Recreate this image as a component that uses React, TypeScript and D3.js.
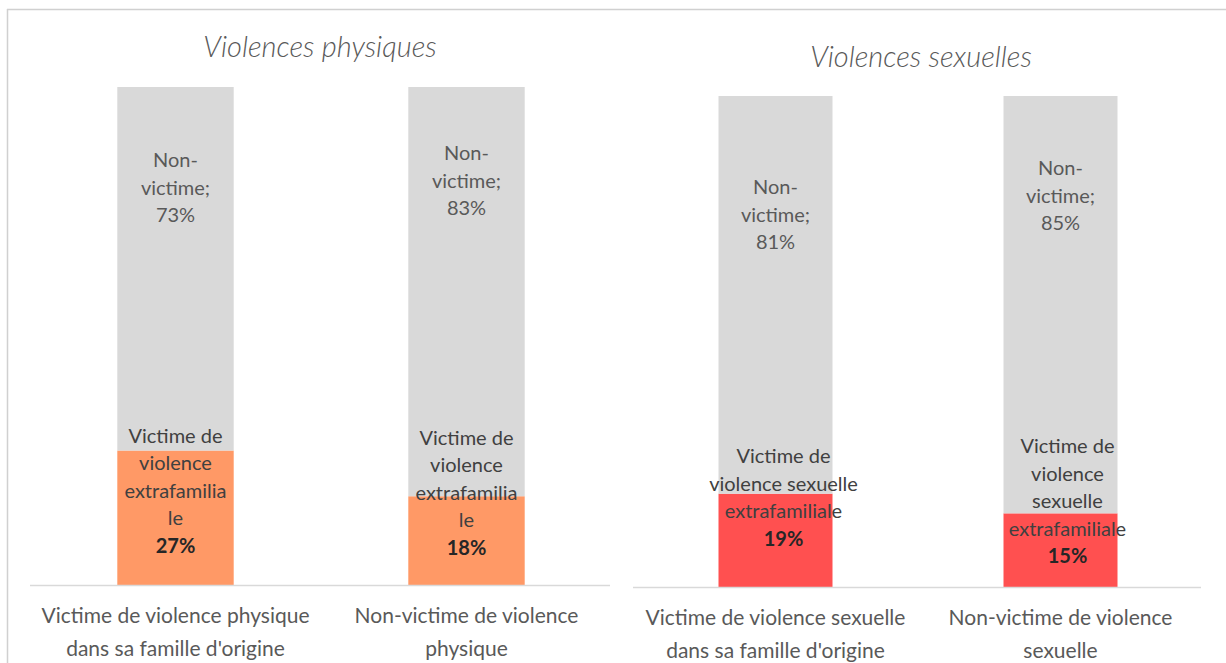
import { useEffect, useRef } from 'react';
import * as d3 from 'd3';

// Violences physiques
const physCategories = [
  ['Victime de violence physique', "dans sa famille d'origine"],
  ['Non-victime de violence', 'physique'],
];
const physVictim = [27, 18];
const physNonVictim = [73, 83];
const physVictimLines = [
  ['Victime de', 'violence', 'extrafamilia', 'le'],
  ['Victime de', 'violence', 'extrafamilia', 'le'],
];

// Violences sexuelles
const sexCategories = [
  ['Victime de violence sexuelle', "dans sa famille d'origine"],
  ['Non-victime de violence', 'sexuelle'],
];
const sexVictim = [19, 15];
const sexNonVictim = [81, 85];
const sexVictimLines = [
  ['Victime de', 'violence sexuelle', 'extrafamiliale'],
  ['Victime de', 'violence', 'sexuelle', 'extrafamiliale'],
];

const FONT = 'Lato, "Open Sans", sans-serif';
const GREY = '#d9d9d9';

export default function App() {
  const ref = useRef<SVGSVGElement>(null);

  useEffect(() => {
    const svg = d3.select(ref.current);
    svg.selectAll('*').remove();

    // frame of the picture
    svg.append('line').attr('x1', 7).attr('x2', 1226).attr('y1', 9.5).attr('y2', 9.5)
      .attr('stroke', '#d0d0d0').attr('stroke-width', 1.5);
    svg.append('line').attr('x1', 7.5).attr('x2', 7.5).attr('y1', 9).attr('y2', 663)
      .attr('stroke', '#d0d0d0').attr('stroke-width', 1.5);

    const panels = [
      {
        title: 'Violences physiques', titleX: 320, titleY: 45,
        range: [30, 612], top: 87, base: 585,
        cats: physCategories, victim: physVictim, non: physNonVictim,
        lines: physVictimLines, color: '#ff9966',
        // label placement tweaks (px) relative to segment centres
        nonDy: [-82, -112], vicDy: [-28, -49], vicDx: [0, 0],
      },
      {
        title: 'Violences sexuelles', titleX: 921, titleY: 55,
        range: [633, 1203], top: 96, base: 587,
        cats: sexCategories, victim: sexVictim, non: sexNonVictim,
        lines: sexVictimLines, color: '#ff5050',
        nonDy: [-81, -110], vicDy: [-44, -50], vicDx: [8, 7],
      },
    ];

    panels.forEach((p) => {
      const g = svg.append('g');
      const rows = p.cats.map((_, i) => ({ i, victim: p.victim[i], non: p.non[i] }));
      const idx = rows.map((r) => r.i);

      // 100% stacked bars
      const series = d3.stack<any>().keys(['victim', 'non']).offset(d3.stackOffsetExpand)(rows);

      const x = d3.scaleBand<number>().domain(idx).range(p.range as [number, number])
        .paddingInner(0.6).paddingOuter(0.3);
      const y = d3.scaleLinear().domain([0, 1]).range([p.base, p.top]);

      g.append('text')
        .attr('x', p.titleX).attr('y', p.titleY)
        .attr('text-anchor', 'middle').attr('dominant-baseline', 'central')
        .style('font-family', FONT).style('font-style', 'italic').style('font-weight', 300)
        .style('font-size', '29px').attr('fill', '#595959')
        .text(p.title);

      series.forEach((s) => {
        g.append('g')
          .selectAll('rect')
          .data(s)
          .join('rect')
          .attr('x', (d) => x(d.data.i)!)
          .attr('width', x.bandwidth())
          .attr('y', (d) => y(d[1]))
          .attr('height', (d) => y(d[0]) - y(d[1]))
          .attr('fill', s.key === 'victim' ? p.color : GREY);
      });

      // baseline
      g.append('line')
        .attr('x1', p.range[0]).attr('x2', p.range[1] - 2)
        .attr('y1', p.base + 0.5).attr('y2', p.base + 0.5)
        .attr('stroke', GREY).attr('stroke-width', 1.5);

      const lh = 27.5;
      const [vicS, nonS] = series;

      // non-victim labels
      idx.forEach((i) => {
        const d = nonS[i];
        const cx = x(i)! + x.bandwidth() / 2;
        const cy = (y(d[0]) + y(d[1])) / 2 + p.nonDy[i];
        const lines = ['Non-', 'victime;', `${p.non[i]}%`];
        lines.forEach((t, k) => {
          g.append('text')
            .attr('x', cx).attr('y', cy + (k - (lines.length - 1) / 2) * lh)
            .attr('text-anchor', 'middle').attr('dominant-baseline', 'central')
            .style('font-family', FONT).style('font-size', '20px')
            .attr('fill', '#595959').text(t);
        });
      });

      // victim labels
      idx.forEach((i) => {
        const d = vicS[i];
        const cx = x(i)! + x.bandwidth() / 2 + p.vicDx[i];
        const cy = (y(d[0]) + y(d[1])) / 2 + p.vicDy[i];
        const lines = [...p.lines[i], `${p.victim[i]}%`];
        lines.forEach((t, k) => {
          const last = k === lines.length - 1;
          g.append('text')
            .attr('x', cx).attr('y', cy + (k - (lines.length - 1) / 2) * lh)
            .attr('text-anchor', 'middle').attr('dominant-baseline', 'central')
            .style('font-family', FONT).style('font-size', '20px')
            .style('font-weight', last ? 700 : 400)
            .attr('fill', last ? '#262626' : '#404040').text(t);
        });
      });

      // category labels under the axis
      idx.forEach((i) => {
        const cx = x(i)! + x.bandwidth() / 2;
        p.cats[i].forEach((t, k) => {
          g.append('text')
            .attr('x', cx).attr('y', p.base + 29 + k * 33)
            .attr('text-anchor', 'middle').attr('dominant-baseline', 'central')
            .style('font-family', FONT).style('font-size', '21px')
            .attr('fill', '#595959').text(t);
        });
      });
    });
  }, []);

  return (
    <div style={{ position: 'fixed', left: 0, top: 0, width: 1226, height: 663, background: '#fff' }}>
      <svg ref={ref} width={1226} height={663} style={{ display: 'block' }} />
    </div>
  );
}
